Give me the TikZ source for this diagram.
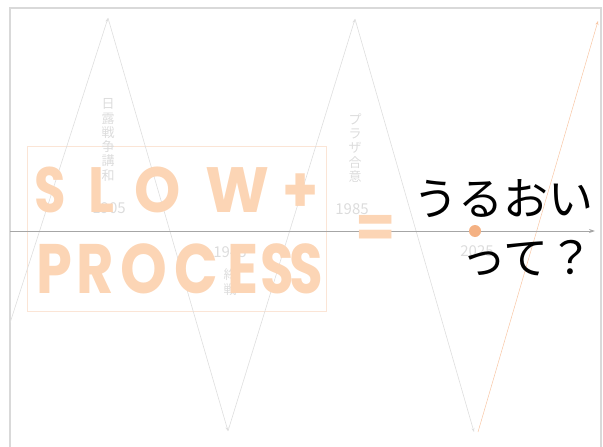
\documentclass[tikz,border=0pt]{standalone}
\usepackage{fontspec}
\usetikzlibrary{arrows.meta}
\newfontfamily\jpfont{Noto Sans CJK JP}
\newfontfamily\slowfont{Poppins}
\definecolor{framegray}{RGB}{217,217,217}
\definecolor{axisgray}{RGB}{166,166,166}
\definecolor{linegray}{RGB}{222,222,222}
\definecolor{labelgray}{RGB}{220,220,220}
\definecolor{peach}{RGB}{252,213,181}
\definecolor{boxpeach}{RGB}{251,229,214}
\definecolor{dotorange}{RGB}{244,177,131}
\definecolor{lineorange}{RGB}{248,198,164}
\tikzset{
  wave/.style={draw=linegray, line width=0.6pt, -{Stealth[length=4pt,width=3pt]}},
  yearlabel/.style={text=labelgray, inner sep=0pt, font=\jpfont\fontsize{15}{15}\selectfont},
  eventlabel/.style={text=labelgray, inner sep=0pt, align=center, font=\jpfont\fontsize{13}{14.3}\selectfont},
  bigletter/.style={text=peach, anchor=base, inner sep=0pt, font=\slowfont\bfseries\fontsize{64}{64}\selectfont},
  answer/.style={anchor=base east, inner sep=0pt, font=\jpfont\fontsize{45}{45}\selectfont}
}
\begin{document}
\begin{tikzpicture}[x=1pt,y=-1pt]
\useasboundingbox (0,0) rectangle (603,447);
\draw[framegray, line width=1.5pt] (10,470) -- (10,8) -- (601,8) -- (601,470);
\node[draw=boxpeach, line width=0.8pt, minimum width=299pt, minimum height=165pt, inner sep=0pt] (box) at (176.5,228.5) {};
%
\coordinate (start) at (10,323);
\coordinate (top1) at (108,18);
\coordinate (low1) at (228,431);
\coordinate (top2) at (355,19);
\coordinate (low2) at (474,432);
\coordinate (low3) at (478,432);
\coordinate (top3) at (598,21);
\draw[wave] (start) -- (top1);
\draw[wave] (top1) -- (low1);
\draw[wave] (low1) -- (top2);
\draw[wave] (top2) -- (low2);
\draw[wave, draw=lineorange, line width=0.5pt] (low3) -- (top3);
%
\coordinate (axisL) at (10,231);
\coordinate (axisR) at (595,231);
\draw[axisgray, line width=1pt, -{Stealth[length=6pt,width=4pt]}] (axisL) -- (axisR);
%
\node[eventlabel] (nichiro) at (108,140) {日\\露\\戦\\争\\講\\和};
\node[yearlabel] (y1905) at (109,208) {1905};
\node[yearlabel] (y1945) at (230,252) {1945};
\node[eventlabel] (shusen) at (230,282) {終\\戦};
\node[eventlabel] (plaza) at (355,148) {プ\\ラ\\ザ\\合\\意};
\node[yearlabel] (y1985) at (352,209) {1985};
\node[yearlabel] (y2025) at (477,251) {2025};
%
\foreach \l/\x/\s [count=\i] in {S/50/0.8, L/101/0.85, O/158/0.92, W/237/0.95, +/301/0.9}
  \node[bigletter] (slow\i) at (\x,212) {\scalebox{\s}[1]{\l}};
\foreach \l/\x/\s [count=\i] in {P/54/0.82, R/95/0.82, O/144/0.85, C/196/0.82, E/243/0.82, S/277/0.78, S/306/0.78}
  \node[bigletter, font=\slowfont\bfseries\fontsize{70}{70}\selectfont] (proc\i) at (\x,293) {\scalebox{\s}[1]{\l}};
\node[bigletter, anchor=center, font=\slowfont\bfseries\fontsize{58}{58}\selectfont] (eq) at (376,231) {=};
%
\node[circle, fill=dotorange, minimum size=12pt, inner sep=0pt] (now) at (475,231) {};
\node[answer] (uruoi) at (594,215) {うるおい};
\node[answer] (tte) at (594,274) {って？};
\end{tikzpicture}
\end{document}
